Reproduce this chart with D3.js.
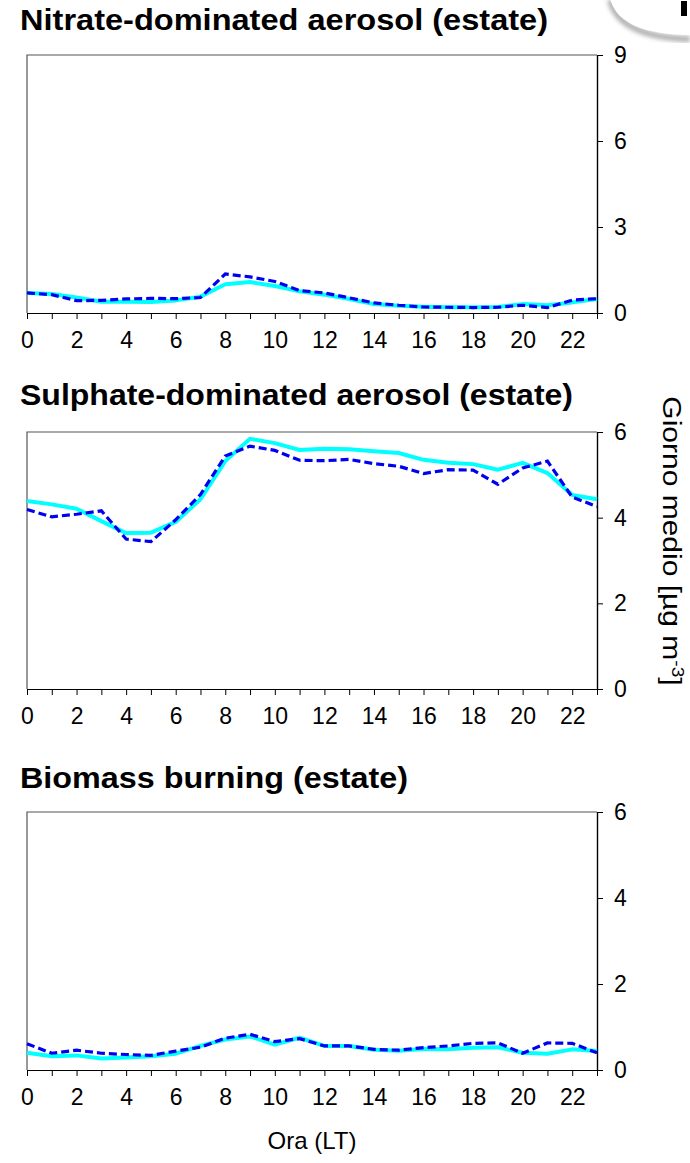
<!DOCTYPE html>
<html>
<head>
<meta charset="utf-8">
<script src="https://cdn.jsdelivr.net/npm/d3@7/dist/d3.min.js"></script>
<style>
  html, body { margin: 0; padding: 0; background: #fff; }
  svg { display: block; font-family: "Liberation Sans", Arial, sans-serif; }
</style>
</head>
<body>
<svg id="chart" width="690" height="1163"></svg>
<script>
// Hours of the day (local time)
const hours = [0,1,2,3,4,5,6,7,8,9,10,11,12,13,14,15,16,17,18,19,20,21,22,23];
const hourLabels = [0,2,4,6,8,10,12,14,16,18,20,22];

// Panel titles
const panelTitles = [
  "Nitrate-dominated aerosol (estate)",
  "Sulphate-dominated aerosol (estate)",
  "Biomass burning (estate)"
];

// Nitrate-dominated aerosol, µg m-3
const nitrateSolid  = [0.70,0.66,0.54,0.39,0.39,0.38,0.44,0.57,1.00,1.08,0.94,0.76,0.64,0.49,0.31,0.25,0.22,0.20,0.20,0.21,0.31,0.27,0.37,0.49];
const nitrateDashed = [0.70,0.64,0.43,0.44,0.49,0.51,0.50,0.54,1.36,1.26,1.10,0.78,0.70,0.53,0.35,0.27,0.21,0.20,0.19,0.20,0.27,0.19,0.45,0.50];

// Sulphate-dominated aerosol, µg m-3
const sulphateSolid  = [4.39,4.31,4.21,3.92,3.64,3.65,3.90,4.43,5.32,5.84,5.74,5.58,5.61,5.60,5.55,5.51,5.35,5.28,5.25,5.12,5.28,5.04,4.53,4.43];
const sulphateDashed = [4.19,4.02,4.08,4.16,3.50,3.44,3.95,4.54,5.44,5.67,5.57,5.34,5.33,5.36,5.26,5.20,5.03,5.12,5.11,4.78,5.16,5.32,4.48,4.26];

// Biomass burning, µg m-3
const biomassSolid  = [0.40,0.32,0.34,0.27,0.29,0.32,0.38,0.56,0.71,0.78,0.59,0.75,0.56,0.56,0.47,0.45,0.49,0.48,0.52,0.53,0.40,0.38,0.48,0.44];
const biomassDashed = [0.61,0.39,0.46,0.39,0.36,0.34,0.44,0.53,0.74,0.83,0.66,0.73,0.56,0.56,0.48,0.46,0.52,0.56,0.62,0.63,0.39,0.63,0.62,0.40];

// Y tick values per panel
const nitrateTicks  = [0,3,6,9];
const sulphateTicks = [0,2,4,6];
const biomassTicks  = [0,2,4,6];

const svg = d3.select("#chart");

const plotLeft = 27, plotRight = 597;
const x = d3.scaleLinear().domain([0, 23]).range([plotLeft, plotRight]);

const panels = [
  { title: panelTitles[0], solid: nitrateSolid,  dashed: nitrateDashed,  ticks: nitrateTicks,
    top: 55,  bottom: 313,  titleY: 30,  titleW: 528 },
  { title: panelTitles[1], solid: sulphateSolid, dashed: sulphateDashed, ticks: sulphateTicks,
    top: 432, bottom: 689,  titleY: 405, titleW: 553 },
  { title: panelTitles[2], solid: biomassSolid,  dashed: biomassDashed,  ticks: biomassTicks,
    top: 812, bottom: 1070, titleY: 788, titleW: 388 }
];

panels.forEach(p => {
  const y = d3.scaleLinear()
    .domain([0, d3.max(p.ticks)])
    .range([p.bottom, p.top]);

  const g = svg.append("g");

  // panel title
  g.append("text")
    .attr("x", 20)
    .attr("y", p.titleY)
    .attr("font-size", 29)
    .attr("font-weight", "bold")
    .attr("fill", "#000")
    .attr("textLength", p.titleW)
    .attr("lengthAdjust", "spacingAndGlyphs")
    .text(p.title);

  // frame (top and left edges)
  g.append("path")
    .attr("d", `M${plotLeft},${p.bottom}V${p.top}H${plotRight}`)
    .attr("fill", "none")
    .attr("stroke", "#555")
    .attr("stroke-width", 1.2);

  // bottom axis: a tick every hour, labels every two hours
  const xAxis = d3.axisBottom(x)
    .tickValues(hours)
    .tickSize(6)
    .tickSizeOuter(0)
    .tickPadding(13)
    .tickFormat(d => hourLabels.includes(d) ? String(d) : "");
  const gx = g.append("g")
    .attr("transform", `translate(0,${p.bottom})`)
    .call(xAxis);
  gx.select(".domain").attr("stroke", "#000").attr("stroke-width", 1.2);
  gx.selectAll(".tick line").attr("stroke", "#000").attr("stroke-width", 1);
  gx.selectAll(".tick text").attr("font-size", 23).attr("font-family", "Liberation Sans, Arial, sans-serif").attr("fill", "#000");

  // right axis
  const yAxis = d3.axisRight(y)
    .tickValues(p.ticks)
    .tickSize(6)
    .tickSizeOuter(0)
    .tickPadding(11)
    .tickFormat(d3.format("d"));
  const gy = g.append("g")
    .attr("transform", `translate(${plotRight},0)`)
    .call(yAxis);
  gy.select(".domain").attr("stroke", "#000").attr("stroke-width", 1.4);
  gy.selectAll(".tick line").attr("stroke", "#000").attr("stroke-width", 1);
  gy.selectAll(".tick text").attr("font-size", 23).attr("font-family", "Liberation Sans, Arial, sans-serif").attr("fill", "#000");

  const line = d3.line()
    .x((d, i) => x(hours[i]))
    .y(d => y(d));

  g.append("path")
    .datum(p.solid)
    .attr("d", line)
    .attr("fill", "none")
    .attr("stroke", "#00ffff")
    .attr("stroke-width", 4)
    .attr("stroke-linejoin", "round");

  g.append("path")
    .datum(p.dashed)
    .attr("d", line)
    .attr("fill", "none")
    .attr("stroke", "#0000f0")
    .attr("stroke-width", 3.2)
    .attr("stroke-dasharray", "8,4");
});

// shared axis titles
svg.append("text")
  .attr("x", (plotLeft + plotRight) / 2)
  .attr("y", 1149)
  .attr("text-anchor", "middle")
  .attr("font-size", 24)
  .attr("fill", "#000")
  .text("Ora (LT)");

const yTitle = svg.append("text")
  .attr("transform", "translate(663,541) rotate(90) scale(1.2,1)")
  .attr("text-anchor", "middle")
  .attr("font-size", 25)
  .attr("fill", "#000");
yTitle.append("tspan").text("Giorno medio [µg m");
yTitle.append("tspan").attr("dy", -9).attr("font-size", 16).text("-3");
yTitle.append("tspan").attr("dy", 9).text("]");

// corner of the neighbouring page element, with its soft shadow
const defs = svg.append("defs");
defs.append("filter").attr("id", "soft")
  .append("feGaussianBlur").attr("stdDeviation", 2);
svg.append("path")
  .attr("d", "M610,0 C617,27 646,38 690,39")
  .attr("fill", "none")
  .attr("stroke", "#b0b0b0")
  .attr("stroke-width", 6)
  .attr("filter", "url(#soft)");
svg.append("path")
  .attr("d", "M610,-2 C616,24 646,35 692,35 V-2 Z")
  .attr("fill", "#fff");
svg.append("rect")
  .attr("x", 681).attr("y", 1)
  .attr("width", 6).attr("height", 15)
  .attr("fill", "#000");
</script>
</body>
</html>
